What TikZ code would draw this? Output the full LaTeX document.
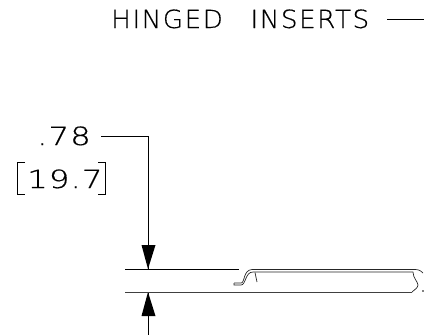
\documentclass[tikz,border=0pt]{standalone}
\usepackage{fontspec}
\setmainfont{DejaVu Sans}
\newfontfamily\cadfont[LetterSpace=6,FakeStretch=1.05,FakeBold=0.5,WordSpace=2.8]{DejaVu Sans ExtraLight}
\newfontfamily\cadnum[LetterSpace=4,FakeStretch=1.3,FakeBold=0.6]{DejaVu Sans ExtraLight}
\tikzset{
  cadline/.style={draw=black,line width=0.75pt},
  lbl/.style={inner sep=0pt,anchor=base west,font=\cadfont\fontsize{25}{25}\selectfont,text=black},
  numlbl/.style={inner sep=0pt,anchor=base west,font=\cadnum\fontsize{25}{25}\selectfont,text=black},
  tip/.style={fill=black,draw=none},
  insert/.style={draw=black!85,line width=0.7pt}
}
\begin{document}
\begin{tikzpicture}[x=1pt,y=-1pt]
\useasboundingbox (0,0) rectangle (424,335);
\node[lbl] (hinged) at (111,28) {HINGED INSERTS};
\node[numlbl] (dim) at (37,145) {.78};
\node[numlbl] (met) at (27,188) {19.7};
\coordinate (h1) at (387,19);
\coordinate (h2) at (424,19);
\draw[cadline] (h1) -- (h2);
\coordinate (d1) at (101,136);
\coordinate (d2) at (148,136);
\coordinate (upTip) at (148,269);
\coordinate (loTip) at (148,292);
\coordinate (loEnd) at (148,335);
\draw[cadline] (d1) -- (d2) -- (upTip);
\draw[cadline] (loTip) -- (loEnd);
\fill[tip] (upTip) -- (141.5,245) -- (155.5,245) -- cycle;
\fill[tip] (loTip) -- (141.5,316) -- (155.5,316) -- cycle;
\draw[cadline] (125,269) -- (239,269);
\draw[cadline,draw=black!75] (125,292) -- (412,292);
% brackets
\draw[cadline,line width=1pt] (25,162) -- (17,162) -- (17,194) -- (25,194);
\draw[cadline,line width=1pt] (98,162) -- (105,162) -- (105,194) -- (98,194);
% insert
\draw[insert] (234,283) -- (241,283) .. controls (245,283) and (243,270) .. (252,269.5) -- (414,269.5) .. controls (418,269.5) and (420,270) .. (423,273);
\draw[insert] (234,283) -- (234,285) -- (241,285) .. controls (246,285) and (245,272) .. (253,272) -- (413,272);
\draw[insert] (255,272.5) -- (257,282);
\draw[insert] (413,272) .. controls (413,278) and (418,282) .. (418,285) .. controls (418,288) and (414,290) .. (412,292);
\fill (423,291) circle (0.8);
\end{tikzpicture}
\end{document}
